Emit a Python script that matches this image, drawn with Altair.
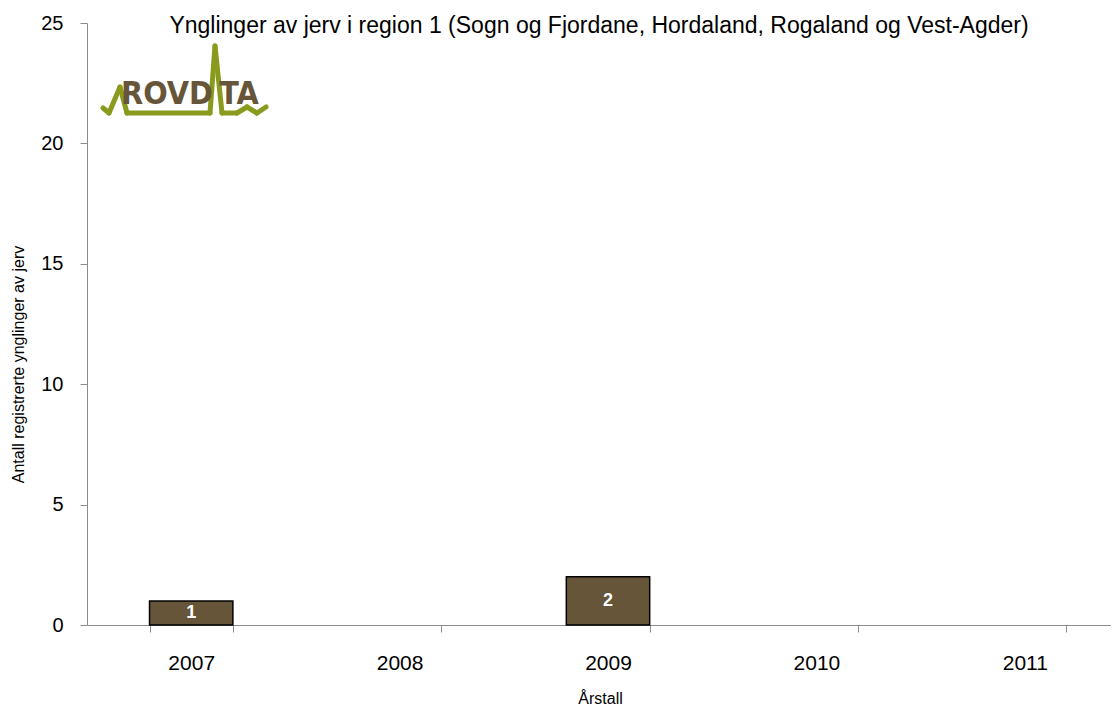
import altair as alt
import pandas as pd

years = ["2007", "2008", "2009", "2010", "2011"]
counts = [1, 0, 2, 0, 0]
labels = ["1", "", "2", "", ""]

df = pd.DataFrame({"year": years, "count": counts, "label": labels})
df["mid"] = df["count"] / 2

FONT = "Liberation Sans"
BROWN = "#665539"
GREEN = "#8A9A1C"
AXIS_GRAY = "#8C8C8C"

xscale = alt.Scale(domain=years, range=[0, 1042], paddingInner=0.6, paddingOuter=0.3)
yscale = alt.Scale(domain=[0, 25], nice=False)

xenc = alt.X("year:N", sort=years, title="Årstall", scale=xscale,
             axis=alt.Axis(labelAngle=0, tickBand="extent", labelPadding=20,
                           tickSize=7, domainColor=AXIS_GRAY,
                           tickColor=AXIS_GRAY, labelFontSize=21, titleFontSize=16,
                           labelFont=FONT, titleFont=FONT, titleFontWeight="normal",
                           labelColor="black", titleColor="black",
                           titleX=513, titleY=73, titleBaseline="middle"))

base = alt.Chart(df)

bars = base.transform_filter("datum.count > 0").mark_bar(
    color=BROWN, stroke="black", strokeWidth=1.5).encode(
    x=xenc,
    y=alt.Y("count:Q", title="Antall registrerte ynglinger av jerv", scale=yscale,
            axis=alt.Axis(values=[0, 5, 10, 15, 20, 25], grid=False, tickSize=7,
                          domainColor=AXIS_GRAY, tickColor=AXIS_GRAY,
                          labelFontSize=20, titleFontSize=16, labelFont=FONT,
                          titleFont=FONT, titleFontWeight="normal",
                          labelColor="black", titleColor="black",
                          labelPadding=17, titleX=-69, titleY=341,
                          titleBaseline="middle")),
)

texts = base.transform_filter("datum.count > 0").mark_text(
    color="white", fontWeight="bold", fontSize=18, font=FONT, baseline="middle").encode(
    x=alt.X("year:N", sort=years, scale=xscale),
    y=alt.Y("mid:Q", scale=yscale),
    text="label:N",
)

# Logo (decorative)
logo_pts = [(16, 85), (22, 90), (33, 64), (40, 90), (123, 90), (128, 23), (135, 90),
            (150, 90), (160, 84), (170, 90), (179, 84)]
one = alt.Data(values=[{}])
segs = []
for (x1, y1), (x2, y2) in zip(logo_pts[:-1], logo_pts[1:]):
    segs.append(alt.Chart(one).mark_rule(color=GREEN, strokeWidth=5, strokeCap="round").encode(
        x=alt.value(x1), x2=alt.value(x2), y=alt.value(y1), y2=alt.value(y2)))

LOGO_FONT = "DejaVu Sans Condensed, Liberation Sans"
logo_txt1 = alt.Chart(one).mark_text(text="ROVD", color=BROWN, fontSize=32, font=LOGO_FONT,
                                     fontWeight="bold", baseline="alphabetic", align="center").encode(
    x=alt.value(80), y=alt.value(81))
logo_txt2 = alt.Chart(one).mark_text(text="TA", color=BROWN, fontSize=32, font=LOGO_FONT,
                                     fontWeight="bold", baseline="alphabetic", align="center").encode(
    x=alt.value(152), y=alt.value(81))

chart = alt.layer(bars, texts, *segs, logo_txt1, logo_txt2).properties(
    width=1024, height=602,
    title=alt.TitleParams("Ynglinger av jerv i region 1 (Sogn og Fjordane, Hordaland, Rogaland og Vest-Agder)",
                          font=FONT, fontSize=23, fontWeight="normal", color="black",
                          anchor="middle", offset=-15, dy=10),
    padding={"left": 79, "top": 15, "right": 0, "bottom": 81},
    autosize="none",
).configure_view(stroke=None)

chart.save("out.html", embed_options={"renderer": "svg", "actions": False})
